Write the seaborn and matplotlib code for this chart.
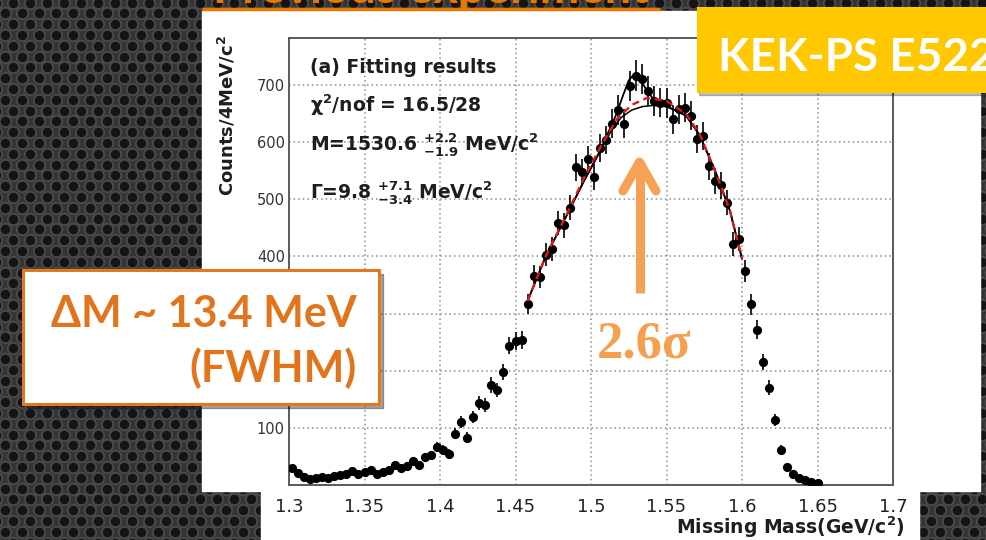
import numpy as np
import matplotlib
matplotlib.use("Agg")
import matplotlib.pyplot as plt
import matplotlib.ticker as mticker
from matplotlib.patches import Rectangle
import seaborn as sns

# ---------------- data ----------------
mass = [1.302, 1.306, 1.310, 1.314, 1.318, 1.322, 1.326, 1.330, 1.334, 1.338,
        1.342, 1.346, 1.350, 1.354, 1.358, 1.362, 1.366, 1.370, 1.374, 1.378,
        1.382, 1.386, 1.390, 1.394, 1.398, 1.402, 1.406, 1.410, 1.414, 1.418,
        1.422, 1.426, 1.430, 1.434, 1.438, 1.442, 1.446, 1.450, 1.454, 1.458,
        1.462, 1.466, 1.470, 1.474, 1.478, 1.482, 1.486, 1.490, 1.494, 1.498,
        1.502, 1.506, 1.510, 1.514, 1.518, 1.522, 1.526, 1.530, 1.534, 1.538,
        1.542, 1.546, 1.550, 1.554, 1.558, 1.562, 1.566, 1.570, 1.574, 1.578,
        1.582, 1.586, 1.590, 1.594, 1.598, 1.602, 1.606, 1.610, 1.614, 1.618,
        1.622, 1.626, 1.630, 1.634, 1.638, 1.642, 1.646, 1.650]
counts = [29, 21, 14, 10, 12, 14, 13, 15, 17, 19,
          25, 19, 22, 26, 20, 23, 26, 35, 29, 33,
          42, 35, 49, 52, 67, 62, 55, 90, 110, 83,
          119, 143, 140, 175, 166, 198, 244, 252, 253, 317,
          366, 364, 403, 413, 458, 454, 485, 556, 547, 570,
          539, 590, 603, 632, 656, 632, 698, 716, 710, 689,
          672, 669, 668, 640, 657, 660, 646, 605, 611, 558,
          532, 524, 494, 422, 430, 374, 316, 272, 215, 170,
          113, 62, 31, 20, 12, 8, 5, 3]
# Poisson (counting) errors of the histogram
count_err = np.sqrt(np.array(counts, dtype=float))

# fit curves
fit_total_x = [1.458, 1.470, 1.484, 1.495, 1.506, 1.513, 1.517, 1.521, 1.525, 1.529,
               1.533, 1.537, 1.541, 1.546, 1.550, 1.563, 1.572, 1.583, 1.592, 1.600]
fit_total_y = [322, 400, 472, 530, 585, 626, 650, 680, 708, 720,
               708, 690, 676, 668, 663, 646, 612, 544, 480, 396]
fit_bg_x = [1.458, 1.470, 1.484, 1.495, 1.506, 1.513, 1.520, 1.527, 1.534, 1.541,
            1.550, 1.563, 1.572, 1.583, 1.592, 1.600]
fit_bg_y = [322, 400, 472, 530, 583, 618, 643, 656, 662, 664,
            662, 646, 612, 544, 480, 396]
fit_red_x = [1.458, 1.470, 1.484, 1.495, 1.506, 1.517, 1.527, 1.537, 1.550, 1.563,
             1.572, 1.583, 1.592, 1.600]
fit_red_y = [322, 400, 474, 535, 590, 640, 665, 677, 672, 649,
             614, 544, 480, 396]

xtick_vals = [1.3, 1.35, 1.4, 1.45, 1.5, 1.55, 1.6, 1.65, 1.7]
xtick_labels = ["1.3", "1.35", "1.4", "1.45", "1.5", "1.55", "1.6", "1.65", "1.7"]
ytick_vals = [100, 200, 300, 400, 500, 600, 700]
ytick_labels = ["100", "200", "300", "400", "500", "600", "700"]

# ---------------- style ----------------
sns.set_theme(style="white")
plt.rcParams["font.family"] = ["DejaVu Sans"]
plt.rcParams["mathtext.fontset"] = "dejavusans"
plt.rcParams["mathtext.default"] = "bf"

W, H = 987, 540
fig = plt.figure(figsize=(W / 100, H / 100), dpi=100)

# ---------------- slide background ----------------
bg = fig.add_axes([0, 0, 1, 1], zorder=0)
bg.set_xlim(0, W)
bg.set_ylim(H, 0)
bg.axis("off")
bg.add_patch(Rectangle((0, 0), W, H, color="#333335", zorder=0))
rows = np.arange(0, 52)
cols = np.arange(-1, 60)
hx, hy = [], []
for j in rows:
    for i in cols:
        hx.append(13 + 17 * i + (8.5 if j % 2 else 0))
        hy.append(2.5 + 10.8 * j)
bg.scatter(hx, hy, s=(13.5 * 0.72) ** 2, color="#4a4a4d", linewidths=0, zorder=1)
bg.scatter(hx, hy, s=(9.5 * 0.72) ** 2, color="#141416", linewidths=0, zorder=2)

# cut-off slide title
bg.text(431, 3, "Previous experiment", ha="center", va="baseline", fontsize=34,
        fontweight="bold", color="#E87800", family=["Lato", "DejaVu Sans"], zorder=2.5)
# white chart panels
bg.add_patch(Rectangle((202, 10.5), 778, 480, color="white", zorder=3))
bg.add_patch(Rectangle((261, 490), 658, 50, color="white", zorder=3))
bg.plot([202, 660], [9, 9], color="#E87800", lw=2.5, solid_capstyle="butt", zorder=5)

# ---------------- chart ----------------
ax = fig.add_axes([289 / W, 55 / H, 604 / W, 447 / H], zorder=2)
ax.set_facecolor("white")
ax.set_xlim(1.3, 1.7)
ax.set_ylim(0, 782)

ax.errorbar(mass, counts, yerr=count_err, fmt="none", ecolor="black",
            elinewidth=1.2, capsize=0, zorder=2)
sns.scatterplot(x=mass, y=counts, ax=ax, s=44, color="black", linewidth=0, zorder=3)

sns.lineplot(x=fit_bg_x, y=fit_bg_y, ax=ax, color="black", lw=1.1,
             sort=False, estimator=None, zorder=4)
sns.lineplot(x=fit_total_x, y=fit_total_y, ax=ax, color="black", lw=1.3,
             sort=False, estimator=None, zorder=4)
sns.lineplot(x=fit_red_x, y=fit_red_y, ax=ax, color="#e3161b", lw=1.7,
             sort=False, estimator=None, zorder=5)
ax.lines[-1].set_dashes([3, 2])

ax.set_xticks(xtick_vals, labels=xtick_labels)
ax.set_yticks(ytick_vals, labels=ytick_labels)
ax.xaxis.set_minor_locator(mticker.MultipleLocator(0.01))
ax.yaxis.set_minor_locator(mticker.MultipleLocator(20))
ax.tick_params(axis="x", which="major", direction="in", length=6, width=1.2,
               color="#555555", labelsize=13, labelcolor="#222222", pad=9)
ax.tick_params(axis="x", which="minor", direction="in", length=3.5, width=1,
               color="#555555")
ax.tick_params(axis="y", which="major", direction="in", length=9, width=1.2,
               color="#555555", labelsize=10.5, labelcolor="#333333", pad=3)
ax.tick_params(axis="y", which="minor", direction="in", length=5, width=1,
               color="#555555")
ax.set_axisbelow(True)
ax.grid(True, which="major", color="#8c8c8c", linestyle=(0, (1, 2)), lw=1.1)
for sp in ax.spines.values():
    sp.set_color("#5a5a5a")
    sp.set_linewidth(1.4)
ax.set_xlabel("")
ax.set_ylabel("")

# ---------------- overlay (pixel coordinates) ----------------
ov = fig.add_axes([0, 0, 1, 1], zorder=5)
ov.set_xlim(0, W)
ov.set_ylim(H, 0)
ov.axis("off")
ov.patch.set_alpha(0)

txt_kw = dict(ha="left", va="baseline", fontsize=13.5, fontweight="bold", color="#1e1e1e")
ov.text(310, 73, "(a) Fitting results", **txt_kw)
ov.text(310, 112, r"χ$^{2}$/nof = 16.5/28", **txt_kw)
ov.text(310, 150, r"M=1530.6 $^{+2.2}_{-1.9}$ MeV/c$^{2}$", **txt_kw)
ov.text(310, 198, r"Γ=9.8 $^{+7.1}_{-3.4}$ MeV/c$^{2}$", **txt_kw)

ov.text(227, 35, r"Counts/4MeV/c$^{2}$", rotation=90, ha="center", va="top",
        fontsize=13, fontweight="bold", color="#1e1e1e")
ov.text(905, 527, r"Missing Mass(GeV/c$^{2}$)", ha="right", va="center",
        fontsize=13.5, fontweight="bold", color="#1e1e1e")

# ΔM box
ov.add_patch(Rectangle((27, 274), 356, 134, color="#000000", alpha=0.35, zorder=1))
ov.add_patch(Rectangle((23, 270), 356, 134, facecolor="white", edgecolor="#E5781E",
                       lw=2.2, zorder=2))
ov.text(357, 327, "ΔM ~ 13.4 MeV", ha="right", va="baseline", fontsize=31,
        fontweight="bold", color="#E3741B", family=["Lato", "DejaVu Sans"], zorder=3)
ov.text(357, 382, "(FWHM)", ha="right", va="baseline", fontsize=31,
        fontweight="bold", color="#E3741B", family=["Lato", "DejaVu Sans"], zorder=3)

# KEK-PS E522 box
ov.add_patch(Rectangle((699, 9), 300, 86, color="#000000", alpha=0.25, zorder=1))
ov.add_patch(Rectangle((697, 7), 300, 86, facecolor="#FFC800", edgecolor="none", zorder=2))
ov.text(718, 71, "KEK-PS E522", ha="left", va="baseline", fontsize=33,
        fontweight="bold", color="white", family=["Lato", "DejaVu Sans"], zorder=3)

# arrow and significance
arrow_c = "#F7A157"
ov.plot([639.5, 639.5], [293, 166], color=arrow_c, lw=6.5, solid_capstyle="butt", zorder=3)
ov.plot([623, 639.5, 656], [191, 162, 191], color=arrow_c, lw=6.5,
        solid_capstyle="round", solid_joinstyle="round", zorder=3)
ov.text(597, 358, "2.6σ", ha="left", va="baseline", fontsize=38, fontweight="bold",
        color="#F5A04E", family=["Liberation Serif", "DejaVu Serif"], zorder=3)

fig.savefig("out.png", dpi=100)
